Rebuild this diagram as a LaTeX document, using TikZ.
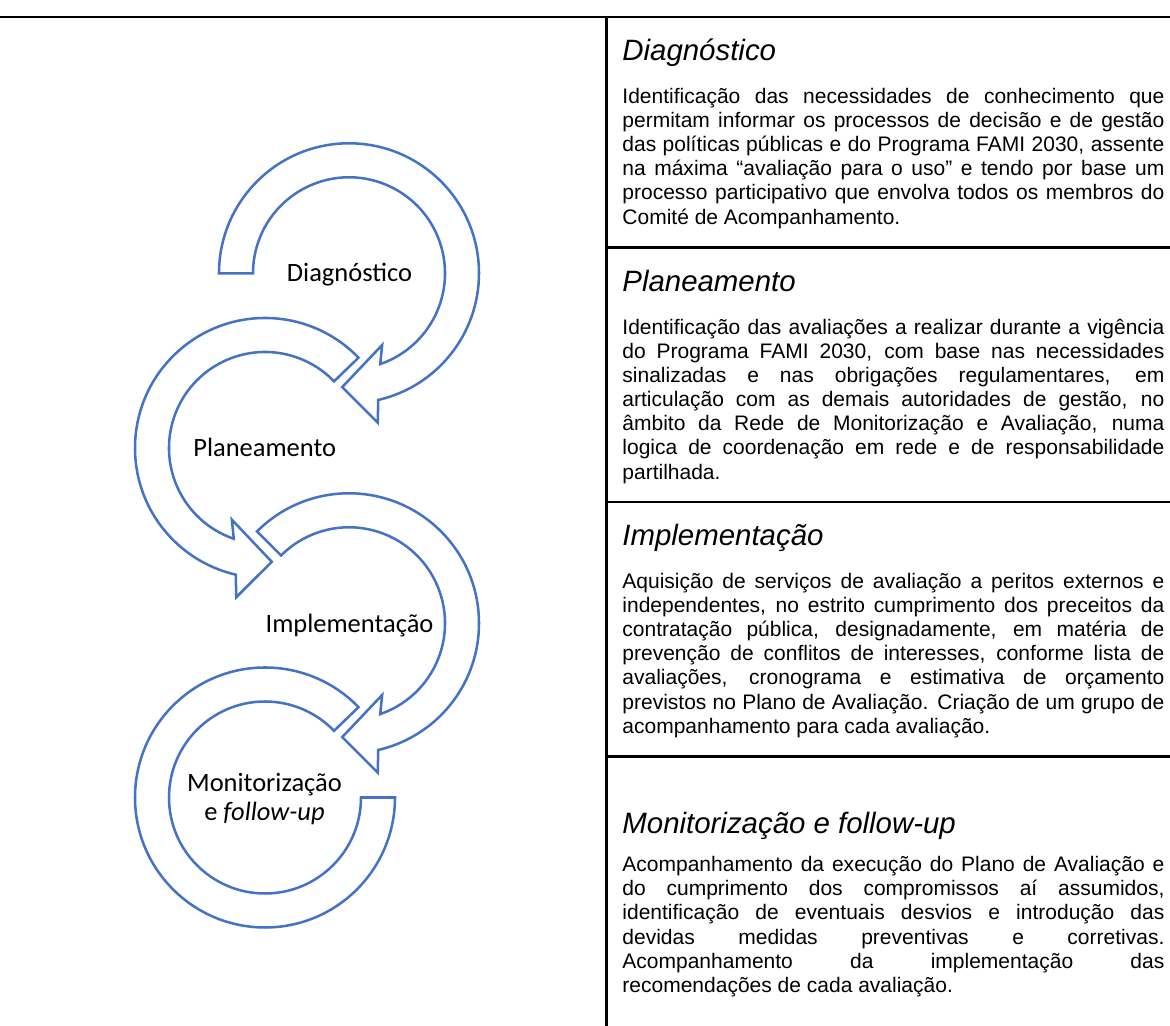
\documentclass[tikz,border=0pt]{standalone}
\usepackage{fontspec}
\setmainfont{Liberation Sans}
\newfontfamily\calibri{Carlito}
\usetikzlibrary{positioning}
\definecolor{cycleblue}{HTML}{4472C4}
\pretolerance=10000

\begin{document}
\begin{tikzpicture}[x=0.476pt, y=0.476pt]
            \tikzset{band/.style={draw=cycleblue, line width=1.2pt, line join=miter}}
            \tikzset{cyclelabel/.style={font=\calibri\fontsize{12.6}{13.6}\selectfont, inner sep=0, align=center}}
            \tikzset{heading/.style={font=\fontsize{14}{16}\selectfont\itshape, anchor=base west, inner sep=0}}
            \tikzset{bodytext/.style={font=\fontsize{10}{11.5}\selectfont, text width=258pt, align=justify, anchor=north west, inner sep=0}}
            \tikzset{rule/.style={line width=1.4pt}}
            \useasboundingbox (0,0) rectangle (1170,1026);
            % table
            \draw[rule] (0,1009) -- (1170,1009);
            \draw[rule] (606.6,1009) -- (606.6,0);
            \draw[rule] (606.6,778.3) -- (1170,778.3);
            \draw[rule] (606.6,524) -- (1170,524);
            \draw[rule] (606.6,269.3) -- (1170,269.3);
            % circular arrows
            \draw[band, shift={(349,752.7)}] (180:130) arc[start angle=180, end angle=-77, radius=130]
            -- (-79.1:152) -- (-93.4:114) -- (-65.2:79) -- (-71:96)
            arc[start angle=-71, end angle=180, radius=96] -- cycle;
            \draw[band, shift={(265,578)}] (44:130) arc[start angle=44, end angle=257, radius=130]
            -- (259.1:152) -- (273.4:114) -- (245.2:79) -- (251:96)
            arc[start angle=251, end angle=44, radius=96] -- cycle;
            \draw[band, shift={(349,402.7)}] (135:130) arc[start angle=135, end angle=-77, radius=130]
            -- (-79.1:152) -- (-93.4:114) -- (-65.2:79) -- (-71:96)
            arc[start angle=-71, end angle=135, radius=96] -- cycle;
            \draw[band, shift={(265,228.5)}] (44:130) arc[start angle=44, end angle=360, radius=130]
            -- (0:96) arc[start angle=360, end angle=44, radius=96] -- cycle;
            \node[cyclelabel, anchor=base] (diaglabel) at (349.5,744.3) {Diagnóstico};
            \node[cyclelabel, anchor=base] (planlabel) at (264.7,569.3) {Planeamento};
            \node[cyclelabel, anchor=base] (impllabel) at (349.5,393.7) {Implementação};
            \node[cyclelabel] (monlabel) at (264.5,226.7) {Monitorização\\e \textit{follow-up}};
            % descriptions
            \node[heading] (diagtitle) at (622,965) {Diagnóstico};
            \node[bodytext] (diagtext) at (622,938.3) {Identificação das necessidades de conhecimento que\linebreak
            permitam informar os processos de decisão e de gestão\linebreak
            das políticas públicas e do Programa FAMI 2030, assente\linebreak
            na máxima “avaliação para o uso” e tendo por base um\linebreak
            processo participativo que envolva todos os membros do\linebreak
            Comité de Acompanhamento.};
            \node[heading] (plantitle) at (622,734.3) {Planeamento};
            \node[bodytext] (plantext) at (622,707.6) {Identificação das avaliações a realizar durante a vigência\linebreak
            do Programa FAMI 2030, com base nas necessidades\linebreak
            sinalizadas e nas obrigações regulamentares, em\linebreak
            articulação com as demais autoridades de gestão, no\linebreak
            âmbito da Rede de Monitorização e Avaliação, numa\linebreak
            logica de coordenação em rede e de responsabilidade\linebreak
            partilhada.};
            \node[heading] (impltitle) at (622,480) {Implementação};
            \node[bodytext] (impltext) at (622,453.3) {Aquisição de serviços de avaliação a peritos externos e\linebreak
            independentes, no estrito cumprimento dos preceitos da\linebreak
            contratação pública, designadamente, em matéria de\linebreak
            prevenção de conflitos de interesses, conforme lista de\linebreak
            avaliações, cronograma e estimativa de orçamento\linebreak
            previstos no Plano de Avaliação. Criação de um grupo de\linebreak
            acompanhamento para cada avaliação.};
            \node[heading] (montitle) at (622,192) {Monitorização e follow-up};
            \node[bodytext] (montext) at (622,170) {Acompanhamento da execução do Plano de Avaliação e\linebreak
            do cumprimento dos compromissos aí assumidos,\linebreak
            identificação de eventuais desvios e introdução das\linebreak
            devidas medidas preventivas e corretivas.\linebreak
            Acompanhamento da implementação das\linebreak
            recomendações de cada avaliação.};
        \end{tikzpicture}
\end{document}
